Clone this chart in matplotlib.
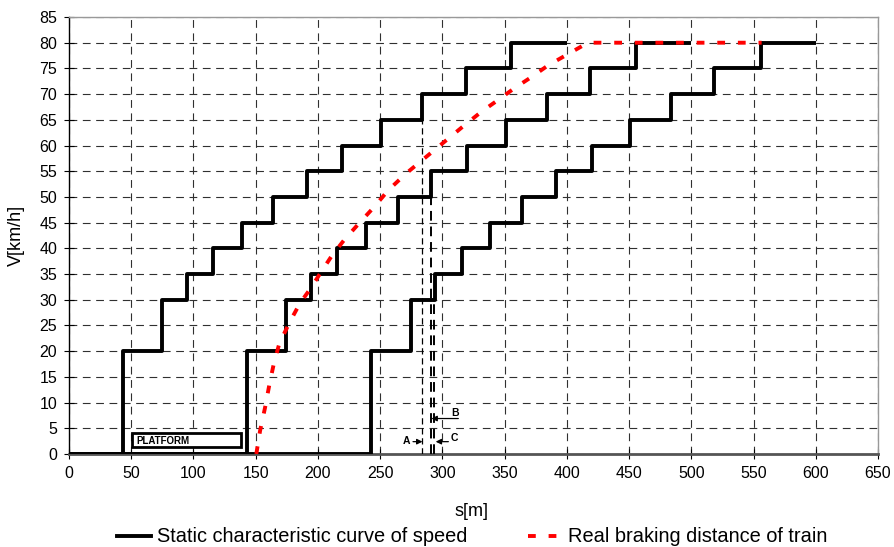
import matplotlib
matplotlib.use("Agg")
import matplotlib.pyplot as plt
from matplotlib.patches import Rectangle
from matplotlib.lines import Line2D

plt.rcParams['font.family'] = ['Liberation Sans', 'DejaVu Sans']

# ---- data ----
speed_levels = [0, 20, 30, 35, 40, 45, 50, 55, 60, 65, 70, 75, 80, 80]
curve1_s = [0, 43, 74.5, 94.5, 115.5, 139, 164, 191, 219.5, 251, 284, 319, 355.5, 400]
curve2_s = [0, 143, 174.5, 194.5, 215.5, 239, 264, 291, 319.5, 351, 384, 419, 455.5, 500]
curve3_s = [0, 243, 275, 294, 315.5, 338.5, 364, 391, 420, 450.5, 483.5, 518.5, 556, 600]

brake_s = [150.5, 153.5, 157.5, 161, 164.5, 169, 177, 185.5, 193.5, 201.5, 211, 221,
           233.5, 245, 256.5, 271, 284.5, 298, 316.5, 331.5, 345, 357, 372, 385,
           401, 417, 556.5]
brake_v = [0, 4.5, 9, 13.5, 17.5, 21.5, 25.5, 29.3, 32, 35, 38.5, 41.6,
           45, 48, 51.3, 54.6, 57.3, 60, 63.7, 66.6, 68.9, 71, 73.4, 75.6,
           77.8, 80, 80]

marker_s = [284, 290.8, 293.3]
marker_top = [65, 50, 30]

x_ticks = list(range(0, 651, 50))
y_ticks = list(range(0, 86, 5))

legend_labels = ["Static characteristic curve of speed", "Real braking distance of train"]

# ---- figure ----
fig = plt.figure(figsize=(8.94, 5.47), dpi=100)
ax = fig.add_axes([69/894, 1-454/547, (878-69)/894, (454-17)/547])

ax.set_xlim(0, 650)
ax.set_ylim(0, 85)
ax.set_xticks(x_ticks)
ax.set_yticks(y_ticks)
ax.tick_params(axis='both', direction='inout', length=7, width=0.8, labelsize=11.5, pad=5)

ax.grid(True, color='#303030', linewidth=0.8, linestyle=(0, (7, 5)))
ax.set_axisbelow(True)

for sp in ['top', 'right']:
    ax.spines[sp].set_color('#999999')
    ax.spines[sp].set_linewidth(1.0)
ax.spines['left'].set_color('black')
ax.spines['left'].set_linewidth(1.0)
ax.spines['bottom'].set_color('#555555')
ax.spines['bottom'].set_linewidth(2.0)

# marker vertical dashed lines
for s, top in zip(marker_s, marker_top):
    lw = 0.9 if top == 65 else 1.4
    ax.plot([s, s], [0, top], color='black', lw=lw, linestyle=(0, (5, 3)), zorder=3)

# step curves
for cs in (curve1_s, curve2_s, curve3_s):
    ax.plot(cs, speed_levels, drawstyle='steps-post', color='black', lw=2.8,
            solid_capstyle='butt', zorder=4)

# braking curve
ax.plot(brake_s, brake_v, color='#ff0000', lw=2.8, linestyle=(0, (2.0, 3.3)),
        dash_capstyle='butt', zorder=5)

# platform box
ax.add_patch(Rectangle((50.3, 1.3), 87.7, 2.7, facecolor='white', edgecolor='black',
                       lw=2.0, zorder=6))
ax.text(54.4, 2.55, "PLATFORM", fontsize=7, fontweight='bold', va='center', ha='left', zorder=7)

# A, B, C annotations
arrow = dict(arrowstyle='-|>', color='black', lw=0.9, mutation_scale=8, shrinkA=0, shrinkB=0)
ax.annotate("", xy=(284, 2.4), xytext=(276.4, 2.4), arrowprops=arrow, zorder=7)
ax.text(271.3, 2.6, "A", fontsize=7.5, fontweight='bold', ha='center', va='center')
ax.annotate("", xy=(291.2, 6.9), xytext=(312.8, 6.9), arrowprops=arrow, zorder=7)
ax.text(309.8, 7.9, "B", fontsize=7.5, fontweight='bold', ha='center', va='center')
ax.annotate("", xy=(294.6, 2.4), xytext=(304.8, 2.4), arrowprops=arrow, zorder=7)
ax.text(309.8, 3.1, "C", fontsize=7.5, fontweight='bold', ha='center', va='center')

ax.set_xlabel("s[m]", fontsize=13)
ax.set_ylabel("V[km/h]", fontsize=13)
ax.xaxis.set_label_coords(0.497, -0.112)
ax.yaxis.set_label_coords(-0.055, 0.5)

handles = [Line2D([], [], color='black', lw=2.8),
           Line2D([], [], color='#ff0000', lw=2.8, linestyle=(0, (2.0, 3.3)),
                  dash_capstyle='butt')]
fig.legend(handles, legend_labels, loc='center', bbox_to_anchor=(0.528, 1-537/547),
           ncol=2, frameon=False, fontsize=14.4, handlelength=1.7, handletextpad=0.3,
           columnspacing=3.0, borderpad=0, borderaxespad=0)

fig.savefig("out.png", dpi=100)
